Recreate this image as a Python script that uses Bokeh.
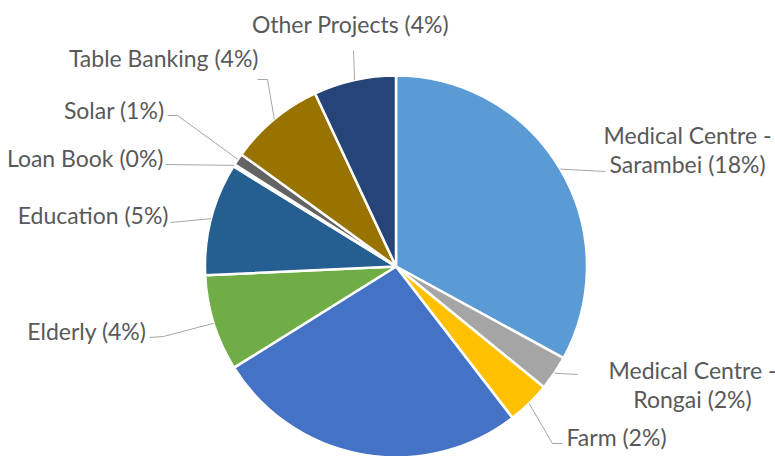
import math
from bokeh.plotting import figure
from bokeh.models import Range1d, ColumnDataSource
from bokeh.core.properties import value
from bokeh.embed import file_html
from bokeh.resources import INLINE

# ---- data (share of total, %) ----
categories = ["Medical Centre - Sarambei", "Medical Centre - Rongai", "Farm", "Unlabelled",
              "Elderly", "Education", "Loan Book", "Solar", "Table Banking", "Other Projects"]
shares = [18.0, 1.6, 2.0, 14.5, 4.45, 5.2, 0.1, 0.55, 4.4, 3.8]
colors = ["#5B9BD5", "#A5A5A5", "#FFC000", "#4472C4", "#70AD47",
          "#255E91", "#9E480E", "#636363", "#997300", "#264478"]

# ---- layout (pixel coordinates, y downward) ----
W, H = 775, 456
def Y(y):
    return H - y

CX, CY, R = 395.5, Y(266), 191

# label layout: (lines, text x, first line centre y, align, leader path after pie point)
label_layout = {
    "Medical Centre - Sarambei": (["Medical Centre -", "Sarambei ({p})"], 687, 134, "center", [(605, 171)]),
    "Medical Centre - Rongai": (["Medical Centre -", "Rongai ({p})"], 692, 369, "center", [(577, 374)]),
    "Farm": (["Farm ({p})"], 566, 436, "left", [(552, 443), (562, 443)]),
    "Elderly": (["Elderly ({p})"], 146, 330, "right", [(163, 336), (149, 337)]),
    "Education": (["Education ({p})"], 168, 214, "right", [(170, 222)]),
    "Loan Book": (["Loan Book ({p})"], 163, 157, "right", [(165, 164)]),
    "Solar": (["Solar ({p})"], 164, 109, "right", [(177, 115), (167, 115)]),
    "Table Banking": (["Table Banking ({p})"], 258, 57, "right", [(267, 79), (257, 79)]),
    "Other Projects": (["Other Projects ({p})"], 350, 23, "center", [(353, 50)]),
}

total = sum(shares)
starts, ends, mids = [], [], []
acc = 0.0
for s in shares:
    a0 = acc / total * 2 * math.pi
    acc += s
    a1 = acc / total * 2 * math.pi
    starts.append(math.pi / 2 - a0)
    ends.append(math.pi / 2 - a1)
    mids.append(math.pi / 2 - (a0 + a1) / 2)

p = figure(width=W, height=H, x_range=Range1d(0, W), y_range=Range1d(0, H),
           output_backend="svg", toolbar_location=None, min_border=0,
           x_axis_type=None, y_axis_type=None)
p.outline_line_color = None
p.background_fill_color = "white"
p.border_fill_color = "white"

src = ColumnDataSource(dict(start=starts, end=ends, color=colors, cat=categories))
p.wedge(x=CX, y=CY, radius=R, start_angle="start", end_angle="end", direction="clock",
        fill_color="color", line_color="white", line_width=2.5, source=src)

lx, ly = [], []
tx, ty, tt, ta = [], [], [], []
for cat, s, m in zip(categories, shares, mids):
    if cat not in label_layout:
        continue
    lines, x0, y0, align, path = label_layout[cat]
    px, py = CX + R * math.cos(m), CY + R * math.sin(m)
    xs = [px] + [pt[0] for pt in path]
    ys = [py] + [Y(pt[1]) for pt in path]
    lx.append(xs)
    ly.append(ys)
    pct = f"{round(s)}%"
    for i, line in enumerate(lines):
        tx.append(x0)
        ty.append(Y(y0 + i * 29))
        tt.append(line.format(p=pct))
        ta.append(align)

p.multi_line(xs=lx, ys=ly, line_color="#A6A6A6", line_width=1)
p.text(x=tx, y=ty, text=tt, text_align=ta, text_baseline="middle",
       text_font=value("Lato"), text_font_size="23px", text_color="#595959")

open("out.html", "w").write(file_html(p, INLINE))
